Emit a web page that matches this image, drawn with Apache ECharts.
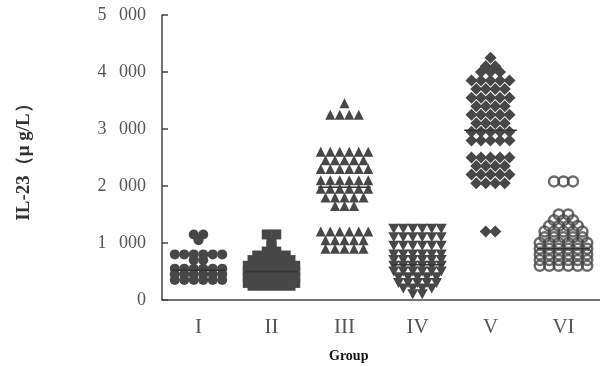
<!DOCTYPE html>
<html><head><meta charset="utf-8">
<script src="https://cdn.jsdelivr.net/npm/echarts@6/dist/echarts.min.js"></script>
<style>html,body{margin:0;padding:0;background:#fff}#c{width:600px;height:367px}</style>
</head><body><div id="c"></div>
<script>
var groups = ['I', 'II', 'III', 'IV', 'V', 'VI'];
var yTicks = [0, 1000, 2000, 3000, 4000, 5000];
// values per group (equal consecutive values share a row)
var g1 = [1150, 1150, 1050, 800, 800, 800, 800, 800, 800, 700, 700,
  550, 550, 550, 550, 550, 550, 450, 450, 450, 450, 450, 450, 350, 350, 350, 350, 350, 350];
var g2 = [1150, 1150, 1000, 950, 850, 850, 780, 780, 780, 780, 700, 700, 700, 700, 700,
  600, 600, 600, 600, 600, 600, 500, 500, 500, 500, 500, 500, 400, 400, 400, 400, 400, 400,
  300, 300, 300, 300, 300, 300, 250, 250, 250, 250, 250];
var g3 = [3450, 3250, 3250, 3250, 3250, 2600, 2600, 2600, 2600, 2600, 2600, 2450, 2450, 2450, 2450, 2450,
  2300, 2300, 2300, 2300, 2300, 2300, 2100, 2100, 2100, 2100, 2100, 2100, 1950, 1950, 1950, 1950, 1950, 1950,
  1800, 1800, 1800, 1800, 1800, 1650, 1650, 1650, 1200, 1200, 1200, 1200, 1200, 1200,
  1050, 1050, 1050, 1050, 1050, 900, 900, 900, 900, 900];
var g4 = [1250, 1250, 1250, 1250, 1250, 1250, 1100, 1100, 1100, 1100, 1100, 1100, 950, 950, 950, 950, 950, 950,
  800, 800, 800, 800, 800, 800, 700, 700, 700, 700, 700, 700, 600, 600, 600, 600, 600, 600,
  500, 500, 500, 500, 500, 500, 400, 400, 400, 400, 400, 300, 300, 300, 300, 300, 200, 200, 200, 200, 100, 100];
var g5 = [4250, 4100, 4100, 4000, 4000, 4000, 3850, 3850, 3850, 3850, 3850, 3700, 3700, 3700, 3700,
  3550, 3550, 3550, 3550, 3550, 3400, 3400, 3400, 3400, 3250, 3250, 3250, 3250, 3250,
  3100, 3100, 3100, 3100, 2950, 2950, 2950, 2950, 2950, 2800, 2800, 2800, 2800, 2800,
  2500, 2500, 2500, 2500, 2500, 2350, 2350, 2350, 2350, 2200, 2200, 2200, 2200, 2200,
  2050, 2050, 2050, 2050, 1200, 1200];
var g6 = [2080, 2080, 2080, 1500, 1500, 1400, 1400, 1400, 1300, 1300, 1300, 1300,
  1200, 1200, 1200, 1200, 1200, 1100, 1100, 1100, 1100, 1100, 1000, 1000, 1000, 1000, 1000, 1000,
  900, 900, 900, 900, 900, 900, 800, 800, 800, 800, 800, 800, 700, 700, 700, 700, 700, 700,
  600, 600, 600, 600, 600, 600];
var means = [520, 500, 1980, 620, 2980, 900];
var symbols = ['circle', 'rect', 'triangle', 'path://M0,0 L10,0 L5,9 Z', 'diamond', 'emptyCircle'];

var allGroups = [g1, g2, g3, g4, g5, g6];
var step = 0.13;
function layout(vals, gi) {
  var out = [], i = 0;
  while (i < vals.length) {
    var j = i;
    while (j < vals.length && vals[j] === vals[i]) j++;
    var n = j - i;
    for (var k = 0; k < n; k++) out.push([gi + 1 + (k - (n - 1) / 2) * step, vals[i]]);
    i = j;
  }
  return out;
}
var col = '#474747';
var series = [];
allGroups.forEach(function (g, gi) {
  var empty = symbols[gi] === 'emptyCircle';
  series.push({
    type: 'scatter', xAxisIndex: 1, data: layout(g, gi),
    symbol: empty ? 'circle' : symbols[gi],
    symbolSize: gi === 4 ? 12 : (gi === 3 ? [11, 10] : 10),
    itemStyle: empty ? { color: 'rgba(0,0,0,0)', borderColor: col, borderWidth: 2.5 } : { color: col, opacity: 1 },
    silent: true, z: 2
  });
  series.push({
    type: 'line', xAxisIndex: 1, data: [[gi + 1 - 0.36, means[gi]], [gi + 1 + 0.36, means[gi]]],
    symbol: 'none', lineStyle: { color: '#333', width: 1.5 }, silent: true, z: 3
  });
});

var chart = echarts.init(document.getElementById('c'));
chart.setOption({
  animation: false,
  backgroundColor: '#fff',
  grid: { left: 162, right: 0, top: 15, bottom: 67 },
  xAxis: [{
    type: 'category', data: groups, boundaryGap: true,
    axisLine: { lineStyle: { color: '#444', width: 1.5 } },
    axisTick: { inside: true, alignWithLabel: true, length: 6, lineStyle: { color: '#444', width: 1.5 } },
    axisLabel: { color: '#555', fontFamily: 'Liberation Serif', fontSize: 21, margin: 17 },
    splitLine: { show: false }
  }, {
    type: 'value', min: 0.5, max: 6.5, show: false
  }],
  yAxis: {
    type: 'value', min: 0, max: 5000, interval: 1000,
    name: 'IL-23（μ g/L）', nameLocation: 'middle', nameGap: 128, nameRotate: 90,
    nameTextStyle: { fontFamily: 'Liberation Serif', fontWeight: 'bold', fontSize: 19, color: '#333' },
    axisLine: { show: true, lineStyle: { color: '#444', width: 1.5 } },
    axisTick: { show: true, inside: true, length: 6, lineStyle: { color: '#444', width: 1.5 } },
    axisLabel: {
      color: '#555', fontFamily: 'Liberation Serif', fontSize: 18, margin: 16,
      formatter: function (v) { return v === 0 ? '0' : (v / 1000) + '\u2002\u2009000'; }
    },
    splitLine: { show: false }
  },
  graphic: [{
    type: 'text', left: 329, top: 349,
    style: { text: 'Group', fontFamily: 'Liberation Serif', fontWeight: 'bold', fontSize: 14, fill: '#111' }
  }],
  series: series
});
</script></body></html>
